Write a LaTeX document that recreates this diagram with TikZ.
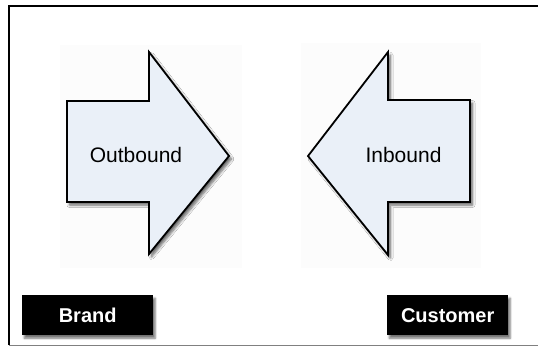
\documentclass[tikz,border=0pt]{standalone}
\usepackage{fontspec}
\setmainfont{Liberation Sans}
\usetikzlibrary{shadows.blur}
\definecolor{arrowfill}{HTML}{EAF0F8}
\definecolor{panelfill}{HTML}{FCFCFC}
\tikzset{
  bigarrow/.style={draw=black, line width=1.8pt, fill=arrowfill, line join=miter,
    blur shadow={shadow xshift=2.5pt, shadow yshift=-3pt, shadow blur steps=6,
      shadow blur radius=2.5pt, shadow opacity=60}},
  panel/.style={fill=panelfill, draw=none},
  arrowlabel/.style={font=\fontsize{21}{24}\selectfont, text=black},
  tag/.style={fill=black, draw=none, text=white, font=\bfseries\fontsize{20}{24}\selectfont,
    minimum width=131pt, minimum height=40pt, inner sep=0pt, anchor=north west,
    blur shadow={shadow xshift=2pt, shadow yshift=-3pt, shadow blur steps=5,
      shadow blur radius=2pt, shadow opacity=55}},
}
\begin{document}
\begin{tikzpicture}[x=1pt, y=-1pt]
  \useasboundingbox (0,0) rectangle (538,348);
  % frame
  \draw[line width=1pt, gray] (9,345) -- (538,345);
  \draw[line width=2pt, black] (9,345) -- (9,6) -- (538,6);
  % faint panels behind the arrows
  \fill[panel] (60,45) rectangle (242,268);
  \fill[panel] (301,43) rectangle (481,268);
  % outbound arrow
  \draw[bigarrow] (67,101) -- (149,101) -- (149,52) -- (229,156) -- (149,254)
    -- (149,202) -- (67,202) -- cycle;
  \node[arrowlabel] (outbound) at (136,155) {Outbound};
  % inbound arrow
  \draw[bigarrow] (308,156) -- (388,52) -- (388,100) -- (470,100) -- (470,202)
    -- (388,202) -- (388,255) -- cycle;
  \node[arrowlabel] (inbound) at (403.5,155) {Inbound};
  % labels
  \node[tag] (brand) at (22,295) {Brand};
  \node[tag, minimum width=121pt] (customer) at (387,295) {Customer};
\end{tikzpicture}
\end{document}
